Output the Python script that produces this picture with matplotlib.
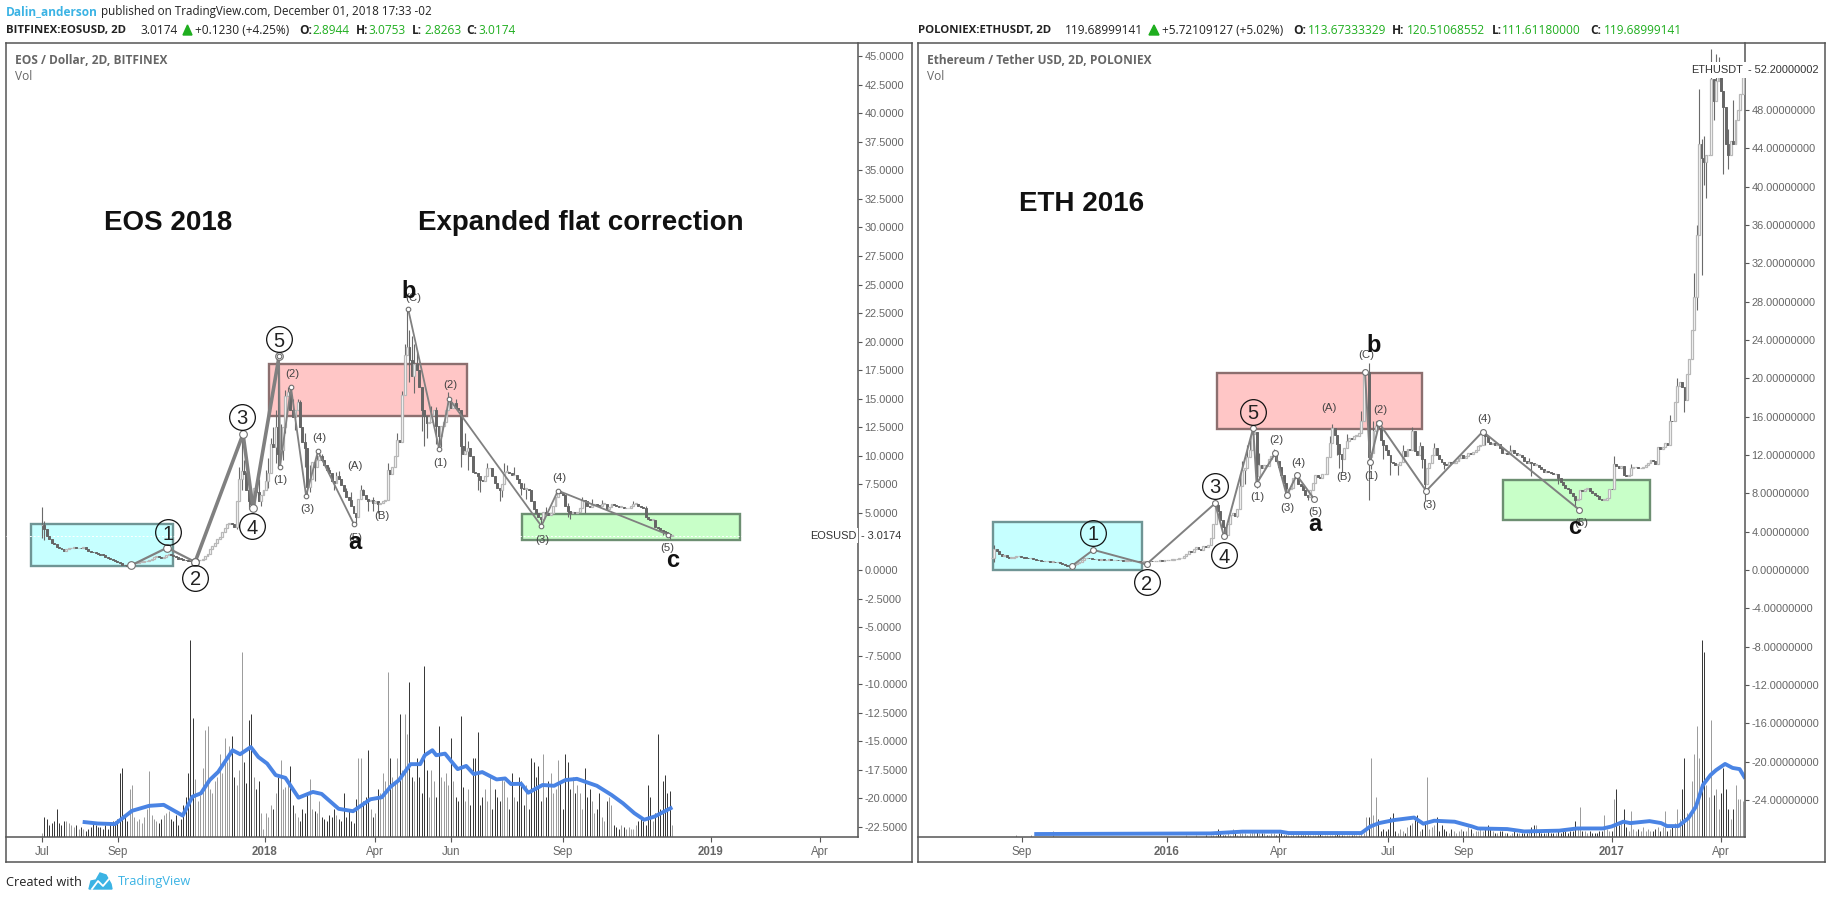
import matplotlib
matplotlib.use("Agg")

import matplotlib.pyplot as plt
from matplotlib.patches import Polygon, Rectangle

W, H = 1831, 899
GREY = "#666666"
FRAME = "#555555"
BLUE = "#3bb3e4"
GREEN_TXT = "#1fae1f"
FONT = "Open Sans"
ARIAL = "Liberation Sans"

# closes, one per 2D bar
EOS_CLOSE = [
    3.9, 3.6, 3.0, 2.7, 2.4, 2.3, 2.0, 1.9, 1.8, 1.7, 1.8, 1.9, 1.9, 2.0, 1.9, 1.95, 1.9, 2.0, 1.85, 1.7,
    1.6, 1.55, 1.45, 1.4, 1.35, 1.3, 1.15, 1.05, 0.95, 0.85, 0.75, 0.7, 0.6, 0.45, 0.4, 0.35, 0.5, 0.55, 0.6, 0.65,
    0.7, 0.7, 0.75, 0.8, 0.9, 1.0, 1.1, 1.2, 1.15, 1.05, 1.1, 1.3, 1.4, 1.3, 1.2, 1.1, 1.0, 0.95, 0.9, 0.85,
    0.8, 0.75, 0.7, 0.8, 0.85, 0.9, 1.0, 1.2, 1.4, 1.8, 2.1, 2.4, 2.7, 2.9, 3.3, 3.7, 4.0, 4.1, 4.0, 3.8,
    6.0, 8.0, 8.7, 8.4, 7.0, 6.0, 5.8, 7.2, 6.8, 6.0, 6.6, 7.0, 7.8, 8.5, 11.0, 10.8, 12.5, 10.2, 10.5, 12.5,
    15.2, 15.6, 14.0, 13.4, 14.0, 14.7, 12.5, 11.2, 10.7, 7.3, 8.0, 9.5, 9.0, 9.6, 10.0, 9.6, 9.2, 8.8, 8.5, 7.8,
    7.6, 8.2, 8.0, 7.4, 6.9, 6.4, 6.1, 5.6, 5.0, 4.6, 6.2, 7.0, 6.6, 6.2, 6.0, 6.1, 5.9, 6.0, 5.8, 5.9,
    6.0, 6.1, 8.8, 8.4, 9.0, 10.0, 11.4, 11.2, 15.3, 18.8, 19.5, 18.4, 17.0, 18.0, 17.5, 16.0, 14.0, 13.5, 12.9, 13.0,
    13.6, 14.0, 12.6, 11.7, 12.6, 13.0, 14.0, 14.7, 14.2, 14.6, 14.2, 14.0, 10.9, 10.2, 10.4, 10.7, 10.0, 8.6, 8.5, 8.2,
    7.9, 7.8, 8.2, 8.9, 8.9, 8.2, 7.6, 7.2, 7.0, 7.5, 8.6, 8.6, 8.5, 8.3, 8.3, 8.0, 7.6, 7.2, 7.1, 7.1,
    7.0, 6.0, 5.3, 5.0, 4.6, 4.5, 5.1, 5.0, 4.8, 5.0, 5.6, 6.4, 6.9, 6.7, 6.6, 5.6, 5.2, 5.0, 5.1, 5.0,
    5.1, 5.4, 6.1, 6.0, 5.6, 5.5, 5.7, 5.8, 5.7, 5.6, 5.8, 5.8, 5.3, 5.5, 5.8, 5.7, 5.6, 5.5, 5.5, 5.4,
    5.4, 5.4, 5.6, 5.8, 5.8, 5.6, 5.5, 5.4, 4.6, 4.5, 4.4, 4.4, 3.8, 3.65, 3.5, 3.4, 3.3, 3.15, 2.95, 3.02,
]
EOS_VOL = [
    2, 10, 9, 6, 7, 8, 14, 7, 6, 8, 8, 7, 6, 5, 6, 4, 5, 4, 3, 4,
    5, 7, 6, 5, 5, 4, 6, 4, 7, 8, 8, 9, 32, 35, 11, 8, 24, 26, 10, 8,
    9, 7, 10, 14, 33, 11, 9, 8, 7, 9, 11, 12, 13, 9, 8, 11, 6, 9, 16, 20,
    32, 99, 60, 29, 18, 21, 35, 54, 56, 24, 22, 28, 30, 42, 32, 50, 38, 46, 51, 30,
    26, 34, 93, 38, 27, 59, 62, 30, 24, 28, 12, 4, 12, 10, 16, 14, 22, 30, 39, 24,
    25, 28, 36, 16, 12, 10, 8, 14, 12, 21, 29, 14, 13, 12, 18, 10, 9, 8, 11, 10,
    14, 11, 9, 8, 22, 10, 14, 8, 7, 19, 40, 40, 18, 20, 44, 14, 10, 12, 24, 22,
    32, 28, 83, 40, 30, 28, 40, 62, 34, 62, 52, 78, 30, 28, 40, 30, 22, 86, 34, 20,
    34, 28, 20, 56, 30, 28, 32, 26, 50, 28, 20, 18, 61, 25, 18, 24, 16, 40, 40, 53,
    16, 20, 24, 18, 30, 14, 24, 20, 18, 30, 28, 20, 14, 32, 20, 18, 30, 28, 16, 26,
    14, 40, 38, 30, 36, 18, 42, 20, 28, 32, 22, 24, 39, 28, 14, 42, 38, 24, 30, 22,
    26, 22, 14, 35, 20, 24, 18, 12, 14, 22, 10, 8, 18, 20, 16, 6, 5, 4, 6, 5,
    4, 5, 4, 4, 6, 8, 10, 8, 6, 26, 20, 8, 12, 52, 14, 28, 31, 22, 23, 6,
]
# only the wicks that stick out visibly, bar -> price
EOS_HIGH = {0: 5.5, 1: 4.3, 2: 3.6, 3: 3.0, 4: 2.7, 81: 9.0, 82: 11.9, 83: 9.6, 84: 8.6, 85: 7.4, 88: 7.6, 89: 8.0,
            92: 8.8, 93: 9.8, 94: 11.6, 95: 12.5, 96: 14.0, 97: 18.7, 98: 12.8, 100: 15.8, 101: 16.0, 103: 15.0,
            105: 15.0, 106: 14.9, 108: 12.0, 110: 9.2, 113: 10.1, 114: 10.4, 115: 10.2, 118: 9.0, 121: 8.6, 122: 8.7,
            125: 7.2, 127: 6.8, 131: 7.4, 132: 7.1, 136: 6.4, 142: 9.4, 146: 12.0, 148: 15.7, 149: 19.8, 150: 22.9,
            151: 21.0, 152: 20.5, 153: 19.8, 154: 19.2, 156: 15.0, 160: 14.4, 162: 14.3, 167: 15.6, 170: 15.0,
            172: 11.4, 174: 12.0, 175: 11.3, 183: 9.4, 190: 9.4, 191: 9.2, 194: 9.0, 198: 7.6, 207: 5.5, 212: 7.1,
            216: 5.9, 222: 6.4, 226: 6.2, 230: 6.1, 243: 6.0, 248: 5.6}
EOS_LOW = {0: 2.8, 1: 2.6, 80: 3.6, 82: 7.0, 85: 5.3, 90: 5.6, 93: 7.2, 96: 9.4, 97: 9.0, 99: 9.6, 100: 12.0, 104: 12.3,
           108: 9.0, 109: 6.5, 110: 6.8, 112: 7.8, 120: 7.0, 129: 4.0, 130: 4.8, 134: 5.2, 136: 5.2, 138: 5.0,
           151: 16.5, 153: 15.5, 156: 12.2, 157: 10.9, 158: 11.6, 162: 11.0, 163: 10.6, 164: 10.8, 172: 9.0,
           175: 8.8, 179: 7.0, 180: 6.8, 188: 6.0, 189: 6.4, 197: 6.6, 199: 6.2, 205: 3.9, 206: 4.2, 216: 4.6,
           217: 4.5, 223: 5.0, 255: 3.1, 257: 2.9, 258: 2.7}
# volume average, bar then height
EOS_MA_BAR = [17.5, 22.9, 30, 37, 44, 50, 57.8, 61.8, 65.3, 68.9, 72.4, 78.3, 81.4, 85.8, 88.9, 92.5, 96, 100, 105.4,
              111.3, 114.9, 121.9, 127.8, 134.9, 139.6, 143.2, 146.7, 151.4, 155.4, 157.3, 160.4, 162, 165.6, 170.8,
              174.3, 177.4, 180.9, 186.8, 190.3, 192.7, 196.9, 199.8, 205.7, 210.4, 215.1, 219.8, 228, 234, 238.7,
              243.4, 247.4, 251.7, 258.3]
EOS_MA = [7.5, 6.8, 6.5, 13.2, 15.7, 16.2, 10.8, 20.3, 22, 28.7, 32.8, 43.7, 41.7, 45.3, 40.3, 37, 31.2, 29.8, 19.8,
          22.7, 21.7, 14.2, 13, 19, 20, 25.3, 28.7, 36.7, 36.7, 41.2, 43.7, 41.2, 42, 34.2,
          35.8, 31.7, 32.7, 29, 29.5, 26.7, 26.8, 22.3, 26.2, 25.8, 28.7, 29.3, 25.8, 21.2, 17,
          12, 8.7, 10.3, 14.5]

ETH_CLOSE = [
    1.2, 2.2, 2.0, 1.7, 1.5, 1.6, 1.4, 1.3, 1.3, 1.4, 1.45, 1.45, 1.4, 1.3, 1.25, 1.2, 1.2, 1.1, 1.05, 1.0,
    0.95, 0.9, 0.9, 0.9, 0.85, 0.85, 0.8, 0.8, 0.7, 0.6, 0.5, 0.45, 0.42, 0.5, 0.6, 0.7, 0.8, 1.0, 1.2, 1.3,
    1.2, 1.15, 1.1, 1.1, 1.05, 1.1, 1.0, 1.05, 1.1, 1.0, 1.0, 1.05, 1.0, 1.0, 0.95, 0.95, 0.95, 0.9, 0.9, 0.9,
    0.9, 0.85, 0.85, 0.9, 0.9, 0.95, 0.9, 0.9, 0.95, 1.0, 0.95, 1.0, 1.0, 1.05, 1.05, 1.1, 1.1, 1.2, 1.3, 1.5,
    1.7, 2.0, 1.9, 2.2, 2.4, 2.2, 2.1, 2.5, 2.4, 2.6, 3.3, 4.8, 6.8, 6.2, 5.2, 4.5, 3.7, 4.8, 5.7, 5.9,
    5.6, 6.4, 8.8, 10.4, 10.6, 11.8, 12.5, 14.2, 14.4, 9.8, 11.0, 10.6, 11.0, 10.9, 11.6, 11.9, 12.1, 11.4, 10.7, 9.9,
    9.1, 8.0, 8.4, 8.6, 9.6, 9.7, 9.0, 8.8, 8.3, 7.8, 7.6, 8.3, 9.1, 9.9, 9.7, 9.6, 10.0, 10.0, 11.8, 13.2,
    14.8, 14.1, 13.1, 12.1, 11.6, 12.7, 13.5, 13.8, 13.7, 14.0, 14.0, 14.3, 15.6, 20.5, 20.7, 11.8, 12.2, 14.5, 15.0, 14.8,
    13.6, 13.0, 12.5, 12.0, 11.3, 11.2, 11.0, 11.0, 11.3, 12.4, 11.9, 12.6, 12.5, 14.5, 12.4, 12.0, 12.9, 11.6, 9.0, 10.6,
    11.2, 12.0, 12.7, 12.0, 11.6, 11.3, 11.1, 11.0, 11.3, 11.2, 11.2, 11.4, 11.7, 12.0, 11.7, 11.9, 12.2, 12.1, 12.3, 12.5,
    12.9, 13.0, 14.3, 14.0, 13.4, 13.1, 13.2, 13.0, 13.1, 12.7, 12.2, 12.2, 12.1, 12.4, 12.5, 12.2, 12.0, 12.0, 11.8, 11.4,
    11.2, 11.3, 11.2, 11.0, 11.0, 10.7, 10.5, 10.2, 10.3, 10.2, 10.1, 10.0, 10.0, 9.6, 9.2, 8.9, 8.6, 8.5, 8.0, 7.7,
    7.3, 7.4, 8.3, 8.2, 8.4, 8.6, 8.2, 8.0, 7.8, 7.7, 7.4, 7.3, 7.3, 7.5, 8.5, 8.4, 11.1, 10.9, 10.6, 10.8,
    9.9, 9.8, 9.9, 10.6, 10.7, 10.7, 10.6, 10.6, 10.7, 11.0, 11.2, 11.5, 11.4, 11.1, 12.8, 12.6, 12.8, 13.2, 13.0, 15.6,
    15.5, 17.5, 19.2, 19.6, 19.1, 17.7, 20.5, 22.0, 25.0, 28.5, 35.0, 44.5, 43.0, 42.6, 43.3, 43.3, 51.2, 48.9, 51.0, 52.5,
    50.0, 48.3, 44.5, 43.3, 44.8, 44.5, 47.0, 48.0, 49.7, 51.5,
]
ETH_VOL = [
    0, 0, 0, 0, 0, 0, 0, 0, 0, 0, 1, 0, 0, 0, 0, 0, 1, 0, 0, 0,
    0, 0, 0, 0, 0, 3, 0, 0, 0, 0, 0, 0, 0, 0, 0, 0, 0, 0, 0, 0,
    0, 0, 0, 0, 0, 0, 0, 0, 0, 0, 0, 0, 0, 0, 0, 0, 0, 0, 0, 0,
    0, 0, 0, 0, 0, 0, 0, 0, 0, 0, 0, 0, 0, 0, 0, 0, 0, 0, 0, 0,
    1, 0, 0, 0, 1, 0, 0, 0, 1, 0, 1, 1, 1, 4, 2, 1, 1, 2, 1, 4,
    2, 1, 2, 2, 2, 1, 2, 3, 3, 3, 2, 2, 2, 1, 1, 2, 2, 1, 2, 2,
    1, 1, 1, 1, 2, 1, 1, 1, 1, 1, 1, 1, 1, 1, 1, 2, 1, 1, 1, 1,
    1, 1, 2, 1, 1, 1, 1, 1, 1, 2, 1, 1, 2, 2, 10, 10, 40, 11, 20, 9,
    3, 4, 3, 4, 10, 12, 3, 2, 4, 3, 2, 5, 6, 7, 10, 11, 3, 4, 7, 30,
    4, 5, 6, 10, 3, 6, 4, 3, 2, 4, 3, 2, 3, 4, 3, 3, 5, 4, 2, 3,
    3, 4, 3, 5, 6, 4, 3, 2, 2, 3, 3, 2, 2, 1, 2, 3, 2, 2, 2, 2,
    2, 3, 5, 6, 6, 3, 2, 2, 2, 3, 2, 2, 2, 3, 2, 3, 3, 2, 3, 3,
    8, 4, 15, 3, 3, 2, 3, 2, 2, 2, 3, 3, 11, 4, 3, 3, 19, 24, 6, 7,
    14, 5, 3, 13, 4, 3, 4, 3, 5, 3, 4, 3, 3, 4, 5, 3, 5, 13, 3, 4,
    5, 7, 14, 9, 24, 40, 12, 9, 28, 42, 56, 40, 99, 93, 26, 20, 59, 21, 24, 14,
    22, 35, 24, 14, 9, 14, 26, 19, 19, 18,
]
ETH_HIGH = {1: 2.6, 92: 7.2, 93: 7.0, 102: 10.0, 103: 11.4, 105: 13.0, 106: 13.6, 107: 14.8, 108: 15.0, 110: 12.2,
            116: 12.6, 125: 10.2, 139: 14.0, 140: 15.2, 146: 14.2, 152: 16.6, 153: 20.7, 155: 21.6, 157: 15.5, 158: 15.6,
            169: 13.0, 173: 14.9, 176: 13.4, 182: 13.3, 202: 14.6, 210: 12.8, 213: 13.0, 221: 11.7, 256: 11.9, 263: 11.1,
            279: 16.2, 282: 20.0, 289: 31.0, 290: 36.0, 291: 50.2, 292: 45.0, 293: 45.3, 296: 54.4, 298: 53.8, 299: 53.5,
            303: 46.0, 305: 49.0, 309: 53.0}
ETH_LOW = {1: 0.8, 62: 0.6, 91: 3.9, 96: 3.5, 97: 3.8, 101: 5.5, 102: 7.0, 104: 9.0, 109: 8.6, 110: 9.6, 121: 7.5, 130: 7.3,
           142: 12.0, 143: 10.6, 144: 10.2, 155: 7.3, 156: 10.5, 161: 11.6, 164: 9.9, 167: 9.9, 177: 10.6, 178: 7.3,
           186: 10.5, 203: 13.0, 222: 9.8, 233: 9.0, 240: 6.6, 285: 16.5, 290: 27.1, 292: 30.8, 293: 40.2, 294: 38.8,
           297: 47.0, 301: 41.3, 303: 41.9, 308: 48.0}
ETH_MA_BAR = [18.2, 90, 103, 118.7, 122, 152, 155.7, 159.3, 165.3, 173.7, 177.5, 182, 190.4, 197.6, 200, 212, 219, 233.5,
              240.7, 251.4, 255, 259.8, 262.7, 270.6, 275.4, 277.8, 282.5, 286.6, 289.7, 292.6, 295.7, 298, 301.7,
              304.8, 307.7, 309.6]
ETH_MA = [1.5, 1.8, 2.7, 2.7, 2, 2, 5.3, 7, 8.5, 9.8, 6.7, 8.2, 7.7, 5.3, 4.3, 4, 2.8, 3.2,
          4.3, 4.3, 5.3, 7.7, 7, 8, 7, 5.5, 5.5, 9.5, 15.3, 26.2, 31.2, 33.7, 36.8,
          34.8, 34.2, 30.3]

# wave counts, (bar, price)
EOS_THICK_BAR = [62.9, 82.6, 86.7, 97.4]
EOS_THICK_VAL = [0.7, 11.9, 5.4, 18.7]
EOS_LINE_BAR = [36.6, 51.4, 62.9]
EOS_LINE_VAL = [0.4, 1.95, 0.7]
EOS_SUB = [[(97.4, 18.7), (97.8, 9.05), (102.3, 16.0), (108.5, 6.5), (113.4, 10.4), (128.2, 4.0)],
           [(150.4, 22.9), (163.2, 10.6), (167.3, 15.0), (205.2, 3.85), (212.0, 6.95), (257.2, 3.1)]]
EOS_CIRCLES = [("1", 51.8, 3.3), ("2", 62.9, -0.7), ("3", 82.2, 13.4), ("4", 86.3, 3.85), ("5", 97.4, 20.2)]
EOS_SMALL = [("(2)", 102.7, 17.2), ("(1)", 97.8, 7.9), ("(3)", 108.9, 5.3), ("(4)", 113.8, 11.6), ("(A)", 128.6, 9.1),
             ("(B)", 139.6, 4.7), ("(5)", 128.6, 2.8), ("(C)", 152.5, 23.8), ("(1)", 163.5, 9.4), ("(2)", 167.6, 16.2),
             ("(4)", 212.4, 8.1), ("(3)", 205.4, 2.6), ("(5)", 257, 1.95)]
EOS_LETTERS = [("a", 128.6, 2.45), ("b", 150.8, 24.4), ("c", 259, 0.8)]
EOS_BOXES = [(-4.5, 53.8, 0.35, 4.0, "#c6ffff", "#6f9595"), (93.3, 174.6, 13.5, 18.0, "#ffc6c6", "#8c6f6f"),
             (197.2, 286.8, 2.6, 4.9, "#c8ffc8", "#6d8f72")]

ETH_LINES = [[(32.8, 0.41), (41.7, 2.1), (63.6, 0.6), (91.8, 6.95), (95.5, 3.5), (107.5, 14.8), (108.9, 9.0), (116.6, 12.2),
              (121.3, 7.8), (125.4, 9.9), (132.6, 7.4)],
             [(153.5, 20.7), (155.6, 11.3), (159.4, 15.3), (178.7, 8.25), (202, 14.45), (241.6, 6.3)]]
ETH_CIRCLES = [("1", 41.7, 3.9), ("2", 63.6, -1.3), ("3", 91.8, 8.8), ("4", 95.5, 1.55), ("5", 107.5, 16.5)]
ETH_SMALL = [("(1)", 109.2, 7.6), ("(2)", 116.9, 13.6), ("(3)", 121.7, 6.5), ("(4)", 125.9, 11.2), ("(5)", 132.9, 6.0),
             ("(A)", 138.8, 16.9), ("(B)", 144.9, 9.7), ("(C)", 153.9, 22.4), ("(1)", 156.2, 9.8), ("(2)", 159.9, 16.7),
             ("(3)", 179.8, 6.8), ("(4)", 202.7, 15.8), ("(5)", 242.7, 4.9)]
ETH_LETTERS = [("a", 132.9, 4.7), ("b", 156.9, 23.4), ("c", 240, 4.4)]
ETH_BOXES = [(0.4, 61.7, 0.0, 5.0, "#c6ffff", "#6f9595"), (92.6, 177, 14.7, 20.6, "#ffc6c6", "#8c6f6f"),
             (210.3, 270.8, 5.2, 9.4, "#c8ffc8", "#6d8f72")]

EOS_XTICK_BAR = [0, 31.2, 91.6, 136.8, 168, 214, 274.8, 319.6]
EOS_XTICK_LBL = ["Jul", "Sep", "2018", "Apr", "Jun", "Sep", "2019", "Apr"]
ETH_XTICK_BAR = [12.2, 72, 118, 163, 194, 255, 300]
ETH_XTICK_LBL = ["Sep", "2016", "Apr", "Jul", "Sep", "2017", "Apr"]
EOS_YTICKS = [45, 42.5, 40, 37.5, 35, 32.5, 30, 27.5, 25, 22.5, 20, 17.5, 15, 12.5, 10, 7.5, 5, 0,
              -2.5, -5, -7.5, -10, -12.5, -15, -17.5, -20, -22.5]
ETH_YTICKS = [48, 44, 40, 36, 32, 28, 24, 20, 16, 12, 8, 4, 0, -4, -8, -12, -16, -20, -24]


def px_axes(fig, left, top, right, bottom, **kw):
    return fig.add_axes([left / W, 1 - bottom / H, (right - left) / W, (bottom - top) / H], **kw)


def draw_candles(ax, close, high, low, vol_ax, volume):
    prev = close[0]
    for i, c in enumerate(close):
        o = prev
        hi = high.get(i, max(o, c))
        lo = low.get(i, min(o, c))
        up = c >= o
        ax.vlines(i, lo, hi, color="#6a6a6a", lw=0.8, zorder=3)
        bottom = min(o, c)
        height = max(abs(c - o), 0.06)
        if up:
            ax.bar(i, height, bottom=bottom, width=0.8, color="white", edgecolor="#b8b8b8", lw=0.9, zorder=4)
        else:
            ax.bar(i, height, bottom=bottom, width=0.8, color="#666666", edgecolor="#666666", lw=0.7, zorder=4)
        prev = c
    for i, v in enumerate(volume):
        up = close[i] >= (close[i - 1] if i else close[0])
        vol_ax.vlines(i, 0, v, color="#9a9a9a" if up else "#333333", lw=0.7)


def draw_waves(ax, lines, lw, size):
    for pts in lines:
        xs = [p[0] for p in pts]
        ys = [p[1] for p in pts]
        ax.plot(xs, ys, color="#808080", lw=lw, zorder=6, solid_capstyle="round")
        ax.plot(xs, ys, ls="none", marker="o", ms=size, mfc="white", mec="#707070", mew=0.8, zorder=7)


def draw_labels(ax, circles, small, letters):
    for txt, x, y in circles:
        ax.plot([x], [y], marker="o", ms=18.5, mfc="none", mec="#111111", mew=0.9, zorder=9)
        ax.text(x, y, txt, ha="center", va="center_baseline", fontsize=14.5, family=ARIAL, color="#222222", zorder=9)
    for txt, x, y in small:
        ax.text(x, y, txt, ha="center", va="center", fontsize=8.2, family=ARIAL, color="#444444", zorder=8)
    for txt, x, y in letters:
        ax.text(x, y, txt, ha="center", va="center", fontsize=17, family=ARIAL, weight="bold", color="#111111", zorder=9)


def setup_panel(fig, left, right, frame_right, xlim, ylim, xticks, xlabels, yticks, yfmt):
    outer = px_axes(fig, left, 43, frame_right, 862)
    outer.set_xticks([])
    outer.set_yticks([])
    for s in outer.spines.values():
        s.set_color(FRAME)
        s.set_linewidth(1.1)

    vol = px_axes(fig, left, 43, right, 837)
    vol.set_xlim(*xlim)
    vol.set_ylim(0, 400)
    vol.axis("off")

    ax = px_axes(fig, left, 43, right, 837)
    ax.patch.set_visible(False)
    ax.set_xlim(*xlim)
    ax.set_ylim(*ylim)
    ax.yaxis.tick_right()
    ax.set_yticks(yticks)
    ax.set_yticklabels([yfmt % t for t in yticks], family=ARIAL, fontsize=7.9, color=GREY)
    ax.set_xticks(xticks)
    ax.set_xticklabels(xlabels, family=ARIAL, fontsize=8.3, color=GREY)
    for lbl in ax.get_xticklabels():
        if lbl.get_text().isdigit():
            lbl.set_weight("bold")
    ax.tick_params(axis="x", length=3.5, width=0.8, color=FRAME, pad=3)
    ax.tick_params(axis="y", length=3, width=0.8, color=FRAME, pad=1.5)
    for s in ax.spines.values():
        s.set_color(FRAME)
        s.set_linewidth(1.1)
    ax.spines["left"].set_visible(False)
    ax.spines["top"].set_visible(False)
    return ax, vol


def draw_boxes(ax, boxes):
    for x0, x1, y0, y1, col, edge in boxes:
        ax.add_patch(Rectangle((x0, y0), x1 - x0, y1 - y0, facecolor=col, edgecolor=edge, lw=1.7, zorder=2))


def draw_chrome(fig):
    c = px_axes(fig, 0, 0, W, H)
    c.set_xlim(0, W)
    c.set_ylim(H, 0)
    c.axis("off")
    c.patch.set_visible(False)

    def t(x, y, s, color="#222222", weight="normal", size=8.6, family=FONT):
        c.text(x, y, s, color=color, weight=weight, fontsize=size, family=family, va="center")

    t(6, 12, "Dalin_anderson", BLUE, "bold")
    t(101, 12, "published on TradingView.com, December 01, 2018 17:33 -02", size=8.4)

    t(6, 30, "BITFINEX:EOSUSD, 2D", weight="bold", size=8.2)
    t(140, 30, "3.0174")
    c.add_patch(Polygon([(183, 35), (192, 35), (187.5, 25)], color=GREEN_TXT))
    t(195, 30, "+0.1230 (+4.25%)")
    for x, s in [(299, "O:"), (356, "H:"), (412, "L:"), (466, "C:")]:
        t(x, 30, s, weight="bold")
    for x, s in [(312, "2.8944"), (368, "3.0753"), (424, "2.8263"), (478, "3.0174")]:
        t(x, 30, s, GREEN_TXT)

    t(918, 30, "POLONIEX:ETHUSDT, 2D", weight="bold", size=8.2)
    t(1065, 30, "119.68999141")
    c.add_patch(Polygon([(1149, 35), (1159, 35), (1154, 25)], color=GREEN_TXT))
    t(1162, 30, "+5.72109127 (+5.02%)")
    for x, s in [(1293, "O:"), (1392, "H:"), (1492, "L:"), (1590, "C:")]:
        t(x, 30, s, weight="bold")
    for x, s in [(1308, "113.67333329"), (1407, "120.51068552"), (1502, "111.61180000"), (1604, "119.68999141")]:
        t(x, 30, s, GREEN_TXT)

    t(15, 61, "EOS / Dollar, 2D, BITFINEX", "#666666", "bold")
    t(15, 77, "Vol", "#666666")
    t(927, 61, "Ethereum / Tether USD, 2D, POLONIEX", "#666666", "bold")
    t(927, 77, "Vol", "#666666")

    t(104, 223, "EOS 2018", "#111111", "bold", 20, ARIAL)
    t(418, 223, "Expanded flat correction", "#111111", "bold", 20, ARIAL)
    t(1019, 204, "ETH 2016", "#111111", "bold", 20, ARIAL)

    t(6, 882, "Created with", size=9.2)
    c.add_patch(Polygon([(89, 889), (91, 881), (96, 880), (100, 873), (106, 875), (111, 884), (112, 889)], color=BLUE))
    c.plot([92, 98, 103, 109], [889, 881, 886, 879], color="white", lw=1.3)
    t(118, 882, "TradingView", BLUE, size=9.2)


def main():
    fig = plt.figure(figsize=(W / 100, H / 100), dpi=100, facecolor="white")

    ax, vol = setup_panel(fig, 6, 858, 912, (-14.8, 335.3), (-23.39, 46.16),
                          EOS_XTICK_BAR, EOS_XTICK_LBL, EOS_YTICKS, "%.4f")
    draw_boxes(ax, EOS_BOXES)
    ax.axhline(3.0174, color="white", lw=0.7, ls=(0, (2, 2)), zorder=2.5)
    draw_candles(ax, EOS_CLOSE, EOS_HIGH, EOS_LOW, vol, EOS_VOL)
    vol.plot(EOS_MA_BAR, EOS_MA, color="#4a84e4", lw=2.8)
    draw_waves(ax, [list(zip(EOS_LINE_BAR, EOS_LINE_VAL))], 1.6, 5.5)
    draw_waves(ax, [list(zip(EOS_THICK_BAR, EOS_THICK_VAL))], 2.6, 5.5)
    draw_waves(ax, EOS_SUB, 1.3, 3.3)
    draw_labels(ax, EOS_CIRCLES, EOS_SMALL, EOS_LETTERS)
    ax.text(0.998, 3.0174, "EOSUSD", transform=ax.get_yaxis_transform(), ha="right", va="center",
            family=ARIAL, fontsize=7.9, color="#333333", zorder=10, bbox=dict(fc="white", ec="none", pad=1.5))
    ax.text(1.0, 3.0174, " - 3.0174", transform=ax.get_yaxis_transform(), ha="left", va="center",
            family=ARIAL, fontsize=7.9, color="#333333", zorder=10, clip_on=False)

    ax, vol = setup_panel(fig, 918, 1745, 1825, (-30.45, 309.9), (-27.87, 55.0),
                          ETH_XTICK_BAR, ETH_XTICK_LBL, ETH_YTICKS, "%.8f")
    draw_boxes(ax, ETH_BOXES)
    draw_candles(ax, ETH_CLOSE, ETH_HIGH, ETH_LOW, vol, ETH_VOL)
    vol.plot(ETH_MA_BAR, ETH_MA, color="#4a84e4", lw=2.8)
    draw_waves(ax, ETH_LINES, 1.4, 4.2)
    draw_labels(ax, ETH_CIRCLES, ETH_SMALL, ETH_LETTERS)
    ax.text(0.998, 52.2, "ETHUSDT", transform=ax.get_yaxis_transform(), ha="right", va="center",
            family=ARIAL, fontsize=7.9, color="#333333", zorder=10, bbox=dict(fc="white", ec="none", pad=2))
    ax.text(1.0, 52.2, " - 52.20000002", transform=ax.get_yaxis_transform(), ha="left", va="center",
            family=ARIAL, fontsize=7.9, color="#333333", zorder=10, clip_on=False)

    draw_chrome(fig)
    fig.savefig("out.png", dpi=100)
    plt.close(fig)


if __name__ == "__main__":
    main()
